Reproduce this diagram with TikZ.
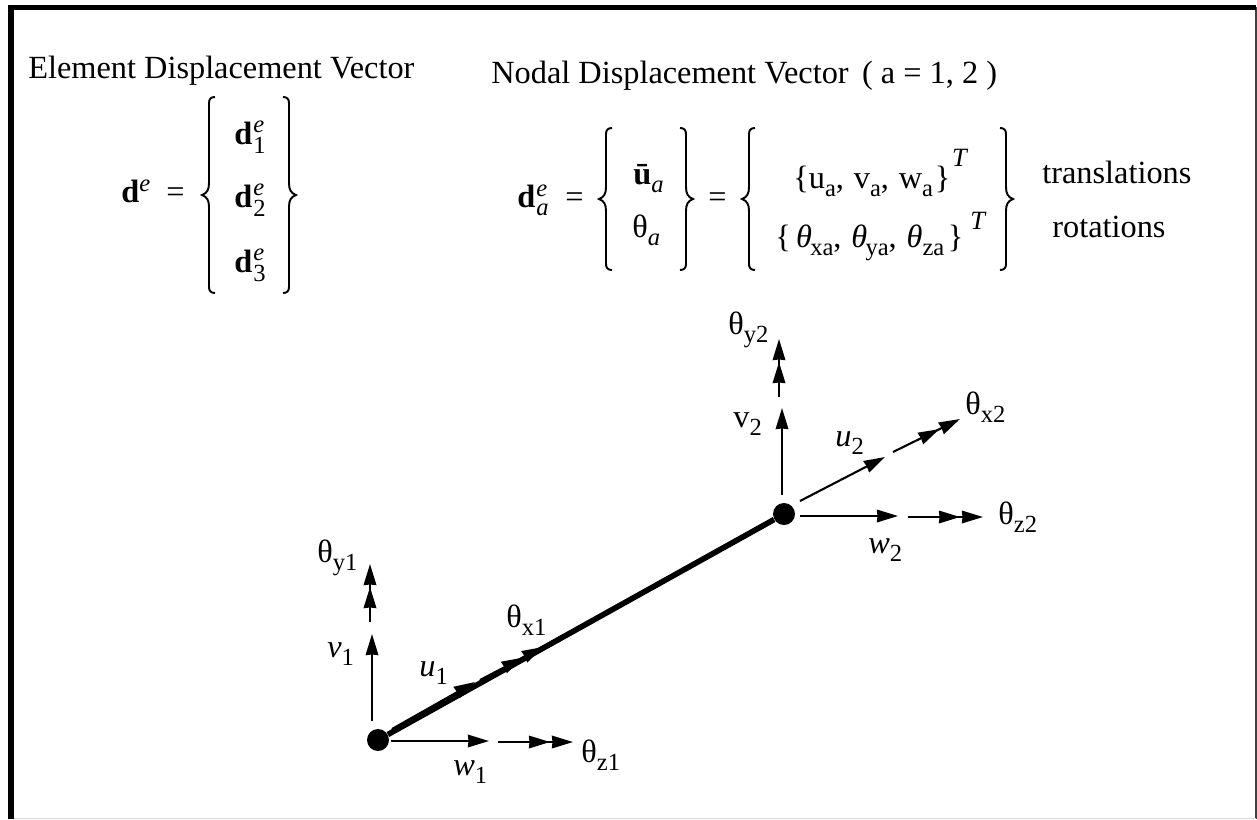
\documentclass[tikz,border=0pt]{standalone}
\usepackage{fontspec}
\setmainfont{Liberation Serif}
\usetikzlibrary{arrows.meta}
\newcommand{\low}[1]{\raisebox{-4.6pt}{\fontsize{14}{14}\selectfont #1}}
\newcommand{\high}[1]{\raisebox{5.8pt}{\fontsize{14}{14}\selectfont\itshape #1}}
\newcommand{\dvec}[1]{\textbf{d}\kern0.6pt\rlap{\raisebox{6.4pt}{\fontsize{14}{14}\selectfont\itshape e}}\raisebox{-5.2pt}{\fontsize{14}{14}\selectfont #1}}
\newcommand{\curlyleft}[3]{% tip x, half height, mid y
  \draw[curly] (#1+13,#3-#2) .. controls (#1+9,#3-#2) and (#1+7,#3-#2+2) .. (#1+7,#3-#2+6) -- (#1+7,#3-12)
    .. controls (#1+7,#3-5) and (#1+5,#3-2) .. (#1,#3) .. controls (#1+5,#3+2) and (#1+7,#3+5) .. (#1+7,#3+12)
    -- (#1+7,#3+#2-6) .. controls (#1+7,#3+#2-2) and (#1+9,#3+#2) .. (#1+13,#3+#2);}
\newcommand{\curlyright}[3]{% tip x, half height, mid y
  \draw[curly] (#1-13,#3-#2) .. controls (#1-9,#3-#2) and (#1-7,#3-#2+2) .. (#1-7,#3-#2+6) -- (#1-7,#3-12)
    .. controls (#1-7,#3-5) and (#1-5,#3-2) .. (#1,#3) .. controls (#1-5,#3+2) and (#1-7,#3+5) .. (#1-7,#3+12)
    -- (#1-7,#3+#2-6) .. controls (#1-7,#3+#2-2) and (#1-9,#3+#2) .. (#1-13,#3+#2);}
\tikzset{
  txt/.style={anchor=base west,inner sep=0pt,font=\fontsize{18.4}{22}\selectfont},
  curly/.style={line width=1.1pt},
  joint/.style={circle,fill=black,minimum size=0.44cm,inner sep=0pt},
  rod/.style={line width=3.2pt},
  vec/.style={line width=1.2pt,-{Stealth[length=0.42cm,width=0.25cm,inset=0.01cm]}},
  vecc/.style={line width=1.2pt,-{Stealth[length=0.42cm,width=0.25cm,inset=0.01cm,sep=0.04cm]Stealth[length=0.42cm,width=0.25cm,inset=0.01cm]}},
}
\begin{document}
\begin{tikzpicture}[x=0.02cm,y=-0.02cm]
\useasboundingbox (0,0) rectangle (1257,819);
\draw[line width=0.7pt,black!75] (1256,7) -- (1256,819);
\draw[line width=0.6pt,black!15] (11,818.6) -- (1256,818.6);
\draw[line width=3.4pt] (11,819) -- (11,7.5) -- (1256,7.5);
% left equation
\node[txt] (eltitle) at (28,78) {Element Displacement Vector};
\node[txt] (de) at (121,202) {\textbf{d}\high{e}};
\node[txt] (deq) at (166,202) {=};
\curlyleft{202}{98}{195}
\curlyright{296}{98}{195}
\node[txt] (de1) at (234,144) {\dvec{1}};
\node[txt] (de2) at (234,207) {\dvec{2}};
\node[txt] (de3) at (234,272) {\dvec{3}};
% right equation
\node[txt] (natitle) at (491,83) {Nodal Displacement Vector\, ( a = 1, 2 )};
\node[txt] (da) at (517,207) {\textbf{d}\kern0.6pt\rlap{\raisebox{5.8pt}{\fontsize{14}{14}\selectfont\itshape e}}\low{\itshape a}};
\node[txt] (daeq) at (565,207) {=};
\curlyleft{599}{71}{199}
\curlyright{693}{71}{199}
\node[txt] (ubar) at (633,184) {\textbf{ū}\low{\itshape a}};
\node[txt] (tha) at (632,237) {θ\low{\itshape a}};
\node[txt] (vaeq) at (708,207) {=};
\curlyleft{742}{71}{199}
\curlyright{1013}{71}{199}
\node[txt] (trow) at (793,188) {\{u\low{a},\ \kern1pt v\low{a},\ \kern1pt w\low{a}\kern1pt\}\kern1pt\raisebox{12pt}{\fontsize{15}{15}\selectfont\itshape T}};
\node[txt] (rrow) at (775,247) {\{\kern3pt\textit{θ}\kern-1pt\low{xa},\ \kern1pt\textit{θ}\kern-1pt\low{ya},\ \kern1pt\textit{θ}\low{za}\kern2pt\}\kern4pt\raisebox{9.7pt}{\fontsize{15}{15}\selectfont\itshape T}};
\node[txt] (trans) at (1042,183) {translations};
\node[txt] (rots) at (1052,237) {rotations};
% beam
\node[joint] (n1) at (378,740) {};
\node[joint] (n2) at (784,514) {};
\draw[rod] (n1) -- (n2);
% end 1
\coordinate (v1a) at (372,721); \coordinate (v1b) at (372,634);
\coordinate (ty1a) at (370,622); \coordinate (ty1b) at (370,564);
\coordinate (u1a) at (392,729); \coordinate (u1b) at (475,682);
\coordinate (tx1a) at (480,680); \coordinate (tx1b) at (543,647);
\coordinate (w1a) at (391,741); \coordinate (w1b) at (489,741);
\coordinate (tz1a) at (498,742); \coordinate (tz1b) at (573,742);
\draw[vec] (v1a) -- (v1b);
\draw[vecc] (ty1a) -- (ty1b);
\draw[vec] (u1a) -- (u1b);
\draw[vecc] (tx1a) -- (tx1b);
\draw[vec] (w1a) -- (w1b);
\draw[vecc] (tz1a) -- (tz1b);
\node[txt] (ty1) at (317,562) {θ\low{y1}};
\node[txt] (lv1) at (327,657) {\textit{v}\low{1}};
\node[txt] (lu1) at (419,676) {\textit{u}\low{1}};
\node[txt] (tx1) at (506,627) {θ\low{x1}};
\node[txt] (lw1) at (453,775) {\textit{w}\low{1}};
\node[txt] (tz1) at (581,762) {θ\low{z1}};
% end 2
\coordinate (v2a) at (782,495); \coordinate (v2b) at (782,408);
\coordinate (ty2a) at (779,397); \coordinate (ty2b) at (779,339);
\coordinate (u2a) at (800,501); \coordinate (u2b) at (885,457);
\coordinate (tx2a) at (893,452); \coordinate (tx2b) at (960,419);
\coordinate (w2a) at (800,516); \coordinate (w2b) at (898,516);
\coordinate (tz2a) at (908,517); \coordinate (tz2b) at (983,517);
\draw[vec] (v2a) -- (v2b);
\draw[vecc] (ty2a) -- (ty2b);
\draw[vec] (u2a) -- (u2b);
\draw[vecc] (tx2a) -- (tx2b);
\draw[vec] (w2a) -- (w2b);
\draw[vecc] (tz2a) -- (tz2b);
\node[txt] (ty2) at (728,334) {θ\low{y2}};
\node[txt] (lv2) at (733,427) {v\low{2}};
\node[txt] (lu2) at (835,446) {\textit{u}\low{2}};
\node[txt] (tx2) at (965,414) {θ\low{x2}};
\node[txt] (lw2) at (868,553) {\textit{w}\low{2}};
\node[txt] (tz2) at (998,524) {θ\low{z2}};
\end{tikzpicture}
\end{document}
